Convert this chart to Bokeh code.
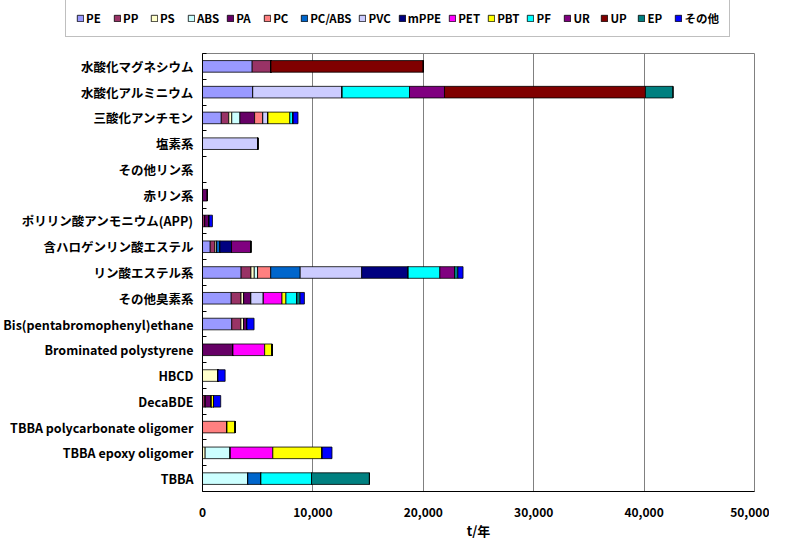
from bokeh.plotting import figure
from bokeh.models import (Legend, LegendItem, FixedTicker, NumeralTickFormatter,
                          ColumnDataSource, Range1d)
from bokeh.embed import file_html
from bokeh.resources import INLINE

categories = ["水酸化マグネシウム", "水酸化アルミニウム", "三酸化アンチモン", "塩素系",
              "その他リン系", "赤リン系", "ポリリン酸アンモニウム(APP)", "含ハロゲンリン酸エステル",
              "リン酸エステル系", "その他臭素系", "Bis(pentabromophenyl)ethane",
              "Brominated polystyrene", "HBCD", "DecaBDE", "TBBA polycarbonate oligomer",
              "TBBA epoxy oligomer", "TBBA"]

series = ["PE", "PP", "PS", "ABS", "PA", "PC", "PC/ABS", "PVC", "mPPE", "PET",
          "PBT", "PF", "UR", "UP", "EP", "その他"]

PE     = [4500, 4550, 1700, 0, 0, 0, 0, 700, 3500, 2600, 2650, 0, 0, 0, 0, 0, 0]
PP     = [1700, 0, 680, 0, 0, 0, 200, 430, 890, 890, 830, 0, 0, 250, 0, 0, 0]
PS     = [0, 0, 270, 0, 0, 0, 0, 150, 300, 240, 240, 0, 1400, 0, 0, 240, 0]
ABS    = [0, 0, 740, 0, 0, 0, 0, 0, 300, 0, 0, 0, 0, 0, 0, 2280, 4100]
PA     = [0, 0, 1330, 0, 0, 450, 400, 0, 0, 650, 300, 2760, 0, 550, 0, 0, 0]
PC     = [0, 0, 740, 0, 0, 0, 0, 0, 1190, 0, 0, 0, 0, 0, 2220, 0, 0]
PC_ABS = [0, 0, 0, 0, 0, 0, 0, 300, 2670, 0, 0, 0, 0, 0, 0, 0, 1190]
PVC    = [0, 8100, 470, 5000, 0, 0, 0, 0, 5570, 1130, 0, 0, 0, 0, 0, 0, 0]
mPPE   = [0, 0, 0, 0, 0, 0, 0, 1050, 4210, 0, 0, 0, 0, 0, 0, 0, 0]
PET    = [0, 0, 0, 0, 0, 0, 0, 0, 0, 1690, 0, 2870, 0, 0, 0, 3850, 0]
PBT    = [0, 0, 1980, 0, 0, 0, 0, 0, 0, 360, 0, 680, 0, 200, 740, 4470, 0]
PF     = [0, 6100, 300, 0, 0, 0, 0, 0, 2870, 980, 0, 0, 0, 0, 0, 0, 4590]
UR     = [0, 3170, 0, 0, 0, 0, 0, 1750, 1330, 0, 0, 0, 0, 0, 0, 0, 0]
UP     = [13800, 18200, 0, 0, 0, 0, 0, 0, 0, 0, 0, 0, 0, 0, 0, 0, 0]
EP     = [0, 2500, 0, 0, 0, 0, 0, 0, 300, 300, 0, 0, 0, 0, 0, 0, 5240]
OTHER  = [0, 0, 440, 0, 0, 0, 300, 0, 470, 390, 650, 0, 650, 650, 0, 890, 0]

colors = ["#9999FF", "#993366", "#FFFFCC", "#CCFFFF", "#660066", "#FF8080",
          "#0066CC", "#CCCCFF", "#000080", "#FF00FF", "#FFFF00", "#00FFFF",
          "#800080", "#800000", "#008080", "#0000FF"]

x_ticks = [0, 10000, 20000, 30000, 40000, 50000]

values = [PE, PP, PS, ABS, PA, PC, PC_ABS, PVC, mPPE, PET, PBT, PF, UR, UP, EP, OTHER]
keys = ["s%d" % i for i in range(len(series))]

n = len(categories)
ys = [n - 1 - i for i in range(n)]
data = {"y": ys}
for k, v in zip(keys, values):
    data[k] = v
src = ColumnDataSource(data)

FONT = "Noto Sans CJK JP"

# ---- main chart ----
p = figure(width=769, height=502, output_backend="svg", toolbar_location=None,
           x_range=Range1d(x_ticks[0], x_ticks[-1]), y_range=Range1d(-0.5, n - 0.5),
           min_border_left=192, min_border_right=15, min_border_top=13, min_border_bottom=48)

rs = p.hbar_stack(keys, y="y", height=0.45, fill_color=colors, line_color="black",
                  line_width=0.8, source=src)

p.yaxis.ticker = FixedTicker(ticks=ys, minor_ticks=[i + 0.5 for i in range(-1, n)])
p.yaxis.major_label_overrides = {y: c for y, c in zip(ys, categories)}
p.yaxis.major_tick_in = 0
p.yaxis.major_tick_out = 0
p.yaxis.minor_tick_in = 4
p.yaxis.minor_tick_out = 0
p.yaxis.major_label_standoff = 9
p.yaxis.major_label_text_font = FONT
p.yaxis.major_label_text_font_style = "bold"
p.yaxis.major_label_text_font_size = "12.5px"
p.yaxis.major_label_text_color = "black"
p.yaxis.axis_line_color = "black"

p.xaxis.ticker = FixedTicker(ticks=x_ticks)
p.xaxis.formatter = NumeralTickFormatter(format="0,0")
p.xaxis.major_tick_in = 0
p.xaxis.major_tick_out = 0
p.xaxis.minor_tick_line_color = None
p.xaxis.major_label_standoff = 16
p.xaxis.major_label_text_font = FONT
p.xaxis.major_label_text_font_style = "bold"
p.xaxis.major_label_text_font_size = "12px"
p.xaxis.major_label_text_color = "black"
p.xaxis.axis_label = "t/年"
p.xaxis.axis_label_text_font = FONT
p.xaxis.axis_label_text_font_style = "bold"
p.xaxis.axis_label_text_font_size = "13px"
p.xaxis.axis_label_text_color = "black"
p.xaxis.axis_label_standoff = 1
p.xaxis.axis_line_color = "black"

p.xgrid.ticker = FixedTicker(ticks=x_ticks)
p.xgrid.grid_line_color = "#808080"
p.ygrid.grid_line_color = None
p.outline_line_color = "#808080"

# ---- legend strip: own root figure, same series drawn off-range so only the legend shows ----
lf = figure(width=769, height=40, output_backend="svg", toolbar_location=None,
            x_range=Range1d(0, 1), y_range=Range1d(1000, 1001),
            min_border_left=0, min_border_right=0, min_border_top=0, min_border_bottom=0,
            x_axis_location=None, y_axis_location=None)
lf.outline_line_color = None
lf.xgrid.visible = False
lf.ygrid.visible = False
lrs = lf.hbar_stack(keys, y="y", height=0.45, fill_color=colors, line_color="black",
                    line_width=0.8, source=src)

legend = Legend(items=[LegendItem(label=s, renderers=[r]) for s, r in zip(series, lrs)],
                orientation="horizontal", location=(65, 3))
legend.glyph_width = 8
legend.glyph_height = 8
legend.label_standoff = 2
legend.spacing = 7
legend.padding = 10
legend.margin = 0
legend.label_text_font = FONT
legend.label_text_font_style = "bold"
legend.label_text_font_size = "11.5px"
legend.label_text_color = "black"
legend.label_height = 14
legend.border_line_color = "#808080"
lf.add_layout(legend, "center")

open("out.html", "w").write(file_html([lf, p], INLINE))
